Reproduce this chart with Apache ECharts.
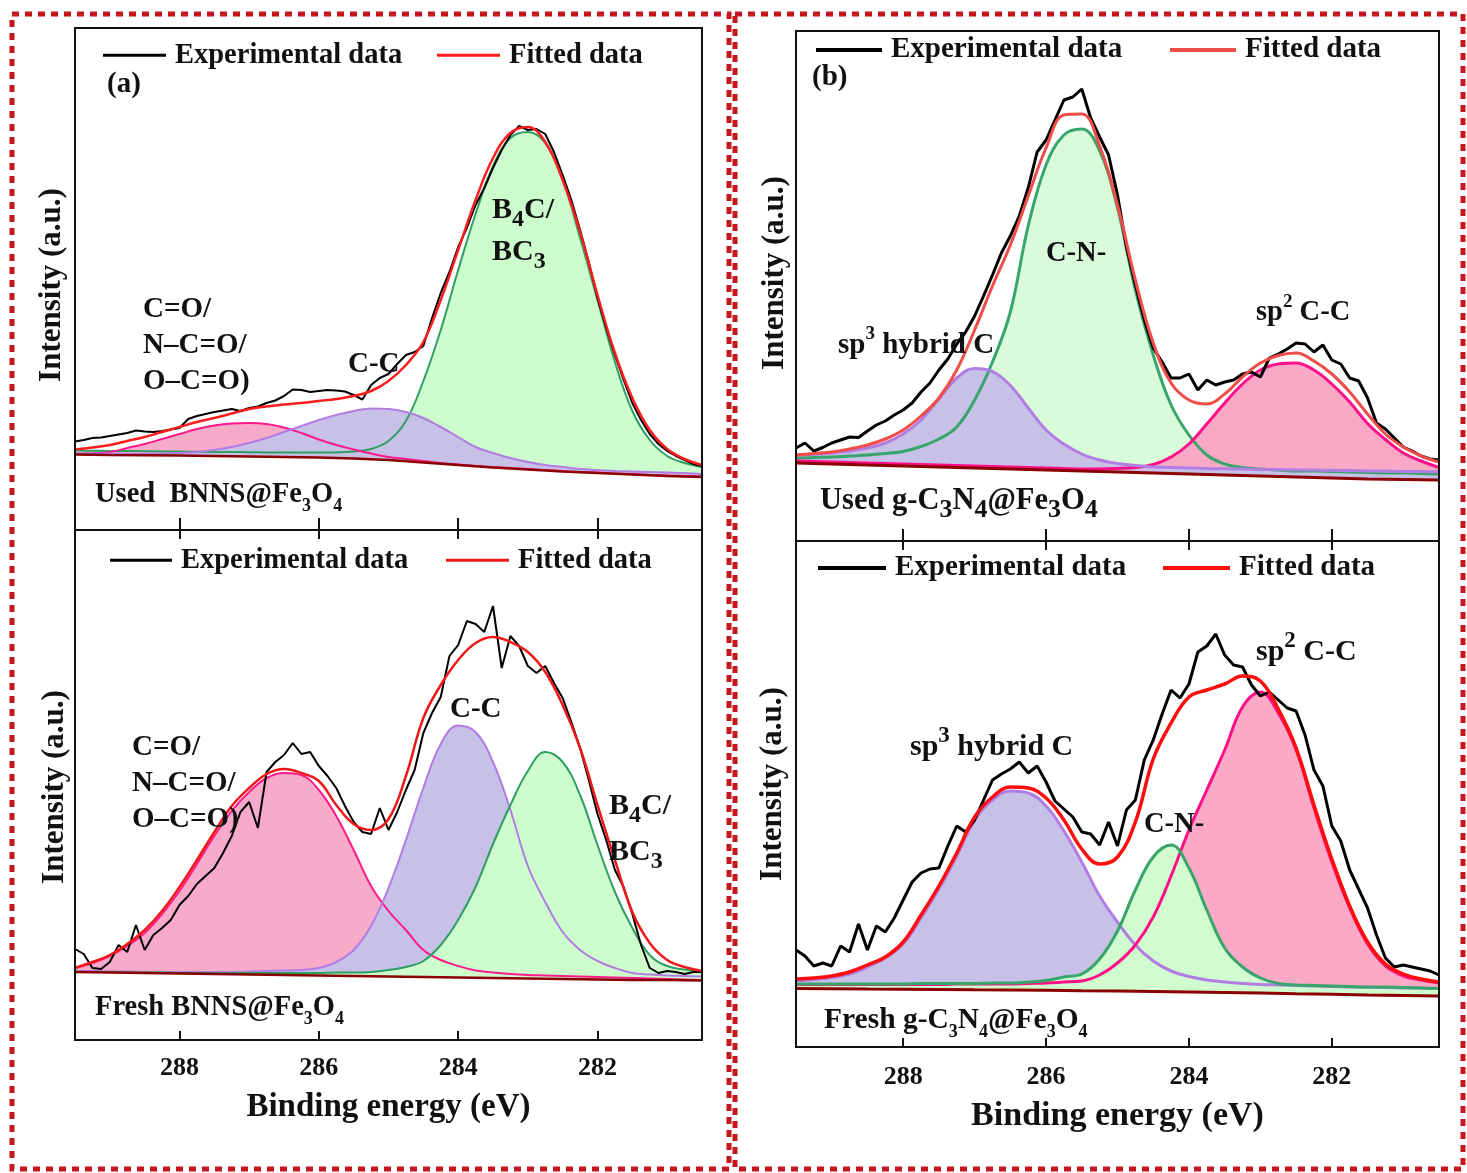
<!DOCTYPE html>
<html><head><meta charset="utf-8">
<script src="https://cdn.jsdelivr.net/npm/echarts@6/dist/echarts.min.js"></script>
<style>html,body{margin:0;padding:0;background:#fff}#c{width:1467px;height:1173px}</style>
</head><body><div id="c"></div>
<script>
// ---------- x values (binding energy, eV) ----------
const energies = [289.5,289.25,289,288.75,288.5,288.25,288,287.75,287.5,287.25,287,286.75,286.5,286.25,286,285.75,285.5,285.25,285,284.75,284.5,284.25,284,283.75,283.5,283.25,283,282.75,282.5,282.25,282,281.75,281.5,281.25,281,280.75,280.5];
const expEnergies = [289.5,289.375,289.25,289.125,289,288.875,288.75,288.625,288.5,288.375,288.25,288.125,288,287.875,287.75,287.625,287.5,287.375,287.25,287.125,287,286.875,286.75,286.625,286.5,286.375,286.25,286.125,286,285.875,285.75,285.625,285.5,285.375,285.25,285.125,285,284.875,284.75,284.625,284.5,284.375,284.25,284.125,284,283.875,283.75,283.625,283.5,283.375,283.25,283.125,283,282.875,282.75,282.625,282.5,282.375,282.25,282.125,282,281.875,281.75,281.625,281.5,281.375,281.25,281.125,281,280.875,280.75,280.625,280.5];
const baseEnergies = [289.5,289,288.5,288,287.5,287,286.5,286,285.5,285,284.5,284,283.5,283,282.5,282,281.5,281,280.5];
const tickValues = [288,286,284,282];

// ---------- (a) Used BNNS@Fe3O4 ----------
const usedBNNS_exp = [88.5,90,92,92.5,94,95.5,97,99.5,98.5,98,99,100.5,102,111,114,116,118,119.5,121,119,122,123.5,127,129.5,134,140.5,140,138,139,140,139.5,138.5,135,130.5,145,152,156,166,175,178,184,212,237,258,283,302,325,342,362,380,395,404,400,401,396,378,355,330,300,268,232,202,175,150,127,110,96,86,79,74,70,66,64];
const usedBNNS_fit = [80.5,82.5,85,89,93,98,103,108,112,116.5,121,123.5,125.5,127,129,131,134,139,149,165,188,230,280,330,372,397,403,388,350,298,235,177,132,100,81,71,65];
const usedBNNS_b4c = [79.5,79.3,79,79,78.8,78.6,78.4,78.2,78,78,77.8,77.6,77.4,77.4,77.4,77.6,78.5,81,89,109,149,200,260,316,364,392,398,387,350,292,230,168,119,90,74,67,63];
const usedBNNS_cc = [76.5,76.5,76.4,76.3,76.2,76.2,77,78,80,83,87,92,98,104,110,115,119,121.5,121,118,112,103,93,83,77,72,68,65,63,61,60,59,58.5,58,57.5,57,56];
const usedBNNS_co = [76.5,76.8,78,82,86,91,96,101,104.5,106.5,107,106,102.5,97,90.5,85,80.5,76.5,73,71,69,67,65.5,64,63,62,61,60,59,58,57.5,56.5,56,55,54.5,54,53.5];
const usedBNNS_base = [75.5,75,74.7,74.4,74,73.5,73,72.5,71.5,70,67.5,65,62.5,60.5,58.5,57,55.5,54,53];

// ---------- (a) Fresh BNNS@Fe3O4 ----------
const freshBNNS_exp = [91,86,72,71,78,95,88,115,90,105,112,120,135,144,156,164,172,187,204,228,238,212,268,278,285,297,286,288,274,264,252,234,218,208,206,232,210,228,250,270,307,327,343,384,395,419,416,408,434,372,404,394,374,367,374,357,342,318,292,260,226,200,170,153,126,95,72,67,69,68,66,68,68];
const freshBNNS_fit = [72,78,85,96,110,129,153,180,208,234,252,266,271,267,259,235,216,210,221,264,322,355,380,397,403,398,388,368,335,292,235,180,128,97,80,73,69];
const freshBNNS_co = [72,77,84,94,107,126,149,176,204,229,248,262,267,265,250,224,190,154,129,110,90,80,74,69.5,67.5,66,65,64.5,64,63.5,63,62.5,62,61.5,61,60.5,60];
const freshBNNS_cc = [69,69,68.5,68.5,68,68,68,68,68,68,68.5,69,69.5,70,72,78,90,114,152,200,252,296,314.5,308,278,230,174,138,108,90,79,72,67,65.5,64.5,64,63.5];
const freshBNNS_b4c = [68,68,68,67.5,67.5,67.5,67,67,67,67,67,67,67,67,67,67.5,67.5,68,70,73,79,95,120,153,196,235,269,288,278,245,195,148,112,85,74,70.5,69];
const freshBNNS_base = [68,67.5,67,66.5,66,65.5,65,64.5,64,63.5,63,62.5,62,61.5,61,60.5,60,60,59.5];

// ---------- (b) Used g-C3N4@Fe3O4 ----------
const usedCN_exp = [93,98,90,93.5,98,101,104,103.5,110,116,120,126,131,138,149,158,171,182,197,209,225,245,266,288,305,325,353,389,401,421,441,444,452,423,404,386,346,294,256,221,193,179,163,163,167,151,161,156,159,161,167,169,164,183,187,192,198,197,189,196,181,177,163,160,143,118,112,103,94,90,85,82,81];
const usedCN_fit = [86,87.5,89,92,96,102,111,125,143,171,211,255,296,345,393,426,427,395,336,261,198,158,141,137,147,164,178,185.5,188,180,167,149,127,107,94,85,79];
const usedCN_cn = [83,83.5,84,85,86,87.5,89.5,94.5,102,114,141,179,229,315,376,406,412,390,333,251,186,136,106,86,77,73.5,72,71,70,70,69.5,69,68.5,68,68,67.5,67];
const usedCN_sp3 = [86,86.5,88,90,93,98,107,121,142,163,172.5,169.5,155.5,133,111,97,87,81,77.5,75.5,74,73.5,73,72.5,72.2,72,71.7,71.5,71.2,71,70.7,70.4,70.1,69.8,69.6,69.4,69.2];
const usedCN_sp2 = [80,79.5,79,78.5,78,77.5,77,76.5,76,75.5,75,74.5,74,73.5,73,72.5,72,72,72.5,73.5,76.5,84,97,117,138,157,171,177,178,171,157,139,117.5,101.5,88,80,73.5];
const usedCN_base = [78,77,76,75,74,73,72,71,70,69,68,67,66,65,64,63,62,61.5,61];

// ---------- (b) Fresh g-C3N4@Fe3O4 ----------
const freshCN_exp = [97,91,81,84,81,101,95,123,97,121,115,129,147,165,174,178,179,201,221,215,227,247,267,273,278,285,274,281,265,246,238,230,215,213,202,225,201,237,247,287,307,333,357,349,363,395,401,413,392,382,380,362,351,355,347,339,336,312,277,261,221,206,177,158,139,112,89,80,82,80,78,76,72];
const freshCN_fit = [68,69,71,75,82,90,105,132,161,194,230,250,260,259,249,227,198,183,190,225,288,324,350,357,363,371,366,338,299,242,188,141,105,83,73,68,65];
const freshCN_sp3 = [66,67.5,69.5,73,80,89,103,129,158,191,227,247,256,254,241,216,185,151,125,102,86,76,70.5,67,65,63.5,62.5,62,61.5,61,60.5,60,59.7,59.4,59.1,58.9,58.6];
const freshCN_cn = [63,63,63,63,63,63,63,63.5,63.5,63.5,63.5,64,64,65,66.5,70,73,88,116,157,190,202,179,137,99,80,69,63.5,62,61.5,61,60.5,60,60,59.5,59,58.5];
const freshCN_sp2 = [62.5,62.5,62.5,62.5,62.5,62.5,62.5,62.5,62.5,63,63,63,63,63.5,64,65,66,72,84,102,130,171,217,257,297,340,355,334,297,239,185,139,103,81,71,67,64];
const freshCN_base = [58.5,58.3,58,57.8,57.5,57.2,57,56.7,56.3,56,55.5,55,54.5,54,53.3,52.7,52,51.5,51];

// ---------- layout / styling ----------
const SERIF = '"Liberation Serif","Times New Roman",serif';
const INK = '#111';
const GREEN = '#2f9e63', PURPLE = '#b27de3', PINK = '#ff1a8c', BASE = '#8b0000';
const GF = '#cdfccd', PF = '#c7c0e7', KF = '#f7abc9';

const grids = [
  {left:75, top:28, width:627, height:502},
  {left:75, top:530, width:627, height:510},
  {left:796, top:31, width:643, height:510},
  {left:796, top:541, width:643, height:506}
];
const yMax = [502, 510, 510, 506];

const panels = [
  {xi:0, exp:usedBNNS_exp, fit:usedBNNS_fit, base:usedBNNS_base, fitColor:'#ff1c1c', expW:2, fitW:2.5, cw:2, bw:2.5,
   comps:[{d:usedBNNS_b4c, line:GREEN, fill:GF},{d:usedBNNS_co, line:PINK, fill:KF},{d:usedBNNS_cc, line:PURPLE, fill:PF}]},
  {xi:1, exp:freshBNNS_exp, fit:freshBNNS_fit, base:freshBNNS_base, fitColor:'#f01818', expW:2, fitW:2.5, cw:2, bw:2.5,
   comps:[{d:freshBNNS_co, line:PINK, fill:KF},{d:freshBNNS_cc, line:PURPLE, fill:PF},{d:freshBNNS_b4c, line:GREEN, fill:GF}]},
  {xi:3, exp:usedCN_exp, fit:usedCN_fit, base:usedCN_base, fitColor:'#f04c48', expW:3, fitW:3, cw:3, bw:3,
   comps:[{d:usedCN_cn, line:'#38a56b', fill:'#dafbda'},{d:usedCN_sp2, line:'#ff0f88', fill:'#f9a9c6'},{d:usedCN_sp3, line:PURPLE, fill:PF}]},
  {xi:4, exp:freshCN_exp, fit:freshCN_fit, base:freshCN_base, fitColor:'#ff0d0d', expW:3, fitW:3.5, cw:3, bw:3,
   comps:[{d:freshCN_sp3, line:PURPLE, fill:PF},{d:freshCN_sp2, line:'#ff0f88', fill:'#fba9c6'},{d:freshCN_cn, line:'#38a56b', fill:'#d0fcd0'}]}
];

function pairs(xs, ys){ return xs.map((x,i)=>[x, ys[i]]); }

const series = [];
panels.forEach((p, gi) => {
  const common = {type:'line', xAxisIndex:p.xi, yAxisIndex:gi, symbol:'none', silent:true, animation:false};
  p.comps.forEach((c, k) => series.push(Object.assign({}, common, {
    data:pairs(energies, c.d), smooth:0.4, lineStyle:{width:0, opacity:0},
    areaStyle:{color:c.fill, opacity:1}, z:1+k})));
  series.push(Object.assign({}, common, {data:pairs(baseEnergies, p.base), lineStyle:{width:0, opacity:0},
    areaStyle:{color:'#ffffff', opacity:1}, z:4}));
  p.comps.forEach(c => series.push(Object.assign({}, common, {
    data:pairs(energies, c.d), smooth:0.4, lineStyle:{color:c.line, width:p.cw}, z:5})));
  series.push(Object.assign({}, common, {data:pairs(baseEnergies, p.base), lineStyle:{color:BASE, width:p.bw}, z:5}));
  series.push(Object.assign({}, common, {name:'Experimental data', data:pairs(expEnergies, p.exp),
    lineStyle:{color:'#000', width:p.expW}, itemStyle:{color:'#000'}, z:7}));
  series.push(Object.assign({}, common, {name:'Fitted data', data:pairs(energies, p.fit), smooth:0.4,
    lineStyle:{color:p.fitColor, width:p.fitW}, itemStyle:{color:p.fitColor}, z:8}));
});

function xAx(gridIndex, position, tickLen, labels, nameGap, nameSize, labelMargin) {
  const a = {gridIndex, type:'value', min:280.5, max:289.5, inverse:true, position, z:10,
    axisLine:{show:false}, splitLine:{show:false},
    axisTick:{show:true, inside:true, length:tickLen, lineStyle:{color:INK, width:2}, customValues:tickValues},
    axisLabel:{show:labels, customValues:tickValues, margin:labelMargin || 16, color:INK,
      fontFamily:SERIF, fontWeight:'bold', fontSize:26}};
  if (labels) {
    a.name = 'Binding energy (eV)'; a.nameLocation = 'middle'; a.nameGap = nameGap;
    a.nameTextStyle = {fontFamily:SERIF, fontWeight:'bold', fontSize:nameSize, color:INK};
  }
  return a;
}
const xAxis = [
  xAx(0,'bottom',12,false),
  xAx(1,'bottom',9,true,51,33,15),
  xAx(1,'top',9,false),
  xAx(2,'bottom',12,false),
  xAx(3,'bottom',9,true,52,34,17),
  xAx(3,'top',9,false)
];
const yAxis = grids.map((g,i)=>({gridIndex:i, type:'value', min:0, max:yMax[i], show:false}));

// legends (one item each, placed like the reference)
function leg(name, left, cy, color, w, h, size) {
  return {left, top:cy - size/2, orient:'horizontal', selectedMode:false, padding:0,
    itemWidth:w, itemHeight:h, icon:'rect',
    textStyle:{fontFamily:SERIF, fontWeight:'bold', fontSize:size, color:INK, padding:[0,0,0,4]},
    data:[{name, icon:'rect', itemStyle:{color}}]};
}
const legend = [
  leg('Experimental data',103,55,'#000',63,3,28.5), leg('Fitted data',437,55,'#ff1c1c',63,3,28.5),
  leg('Experimental data',110,560,'#000',62,3,28.5), leg('Fitted data',446,560,'#f01818',63,3,28.5),
  leg('Experimental data',816,50,'#000',66,4,29), leg('Fitted data',1170,50,'#f04c48',66,4,29),
  leg('Experimental data',818,568,'#000',68,4,29), leg('Fitted data',1163,568,'#ff0d0d',67,4,29)
];

// text with _x subscript and ^x superscript markup
function mkText(x, y, str, size, subScale) {
  subScale = subScale || 0.72;
  let out = '', buf = '';
  const flush = () => { if (buf) { out += '{m|' + buf + '}'; buf = ''; } };
  for (let i = 0; i < str.length; i++) {
    const ch = str[i];
    if (ch === '_' || ch === '^') { flush(); out += '{' + (ch === '_' ? 'sub' : 'sup') + '|' + str[i+1] + '}'; i++; }
    else buf += ch;
  }
  flush();
  const ss = Math.round(size * subScale);
  return {type:'text', z:100, silent:true, x, y, style:{text:out, x:0, y:0, align:'left', verticalAlign:'middle',
    rich:{
      m:{fontFamily:SERIF, fontWeight:'bold', fontSize:size, fill:INK, lineHeight:Math.round(size*1.45)},
      sub:{fontFamily:SERIF, fontWeight:'bold', fontSize:ss, fill:INK, lineHeight:ss, verticalAlign:'bottom'},
      sup:{fontFamily:SERIF, fontWeight:'bold', fontSize:ss, fill:INK, lineHeight:ss, verticalAlign:'top'}
    }}};
}
function yTitle(cx, cy, size) {
  return {type:'text', z:100, silent:true, x:cx, y:cy, rotation:Math.PI/2,
    style:{text:'Intensity (a.u.)', x:0, y:0, align:'center', verticalAlign:'middle',
      fontFamily:SERIF, fontWeight:'bold', fontSize:size, fill:INK}};
}
function box(g) {
  return {type:'rect', z:100, silent:true, shape:{x:g.left, y:g.top, width:g.width, height:g.height},
    style:{fill:'none', stroke:INK, lineWidth:2}};
}
function dashed(x, y, w, h) {
  return {type:'rect', z:100, silent:true, shape:{x, y, width:w, height:h},
    style:{fill:'none', stroke:'#c4161c', lineWidth:5, lineDash:[7,6]}};
}

const graphic = [
  dashed(12,14,717,1155), dashed(735,14,728,1155),
  box(grids[0]), box(grids[1]), box(grids[2]), box(grids[3]),
  yTitle(52,285,31), yTitle(55,787,31), yTitle(775,273,31), yTitle(773,784,31),
  // (a) used
  mkText(107,85,'(a)',29),
  mkText(143,310,'C=O/',29), mkText(143,346,'N\u2013C=O/',29), mkText(143,382,'O\u2013C=O)',29),
  mkText(348,365,'C-C',29),
  mkText(492,210,'B_4C/',30,0.8), mkText(492,252,'BC_3',30,0.8),
  mkText(95,495,'Used  BNNS@Fe_3O_4',28.5,0.62),
  // (a) fresh
  mkText(132,748,'C=O/',29), mkText(132,784,'N\u2013C=O/',29), mkText(132,820,'O\u2013C=O)',29),
  mkText(450,710,'C-C',29),
  mkText(609,806,'B_4C/',30,0.8), mkText(609,852,'BC_3',30,0.8),
  mkText(95,1008,'Fresh BNNS@Fe_3O_4',28.5,0.62),
  // (b) used
  mkText(812,78,'(b)',29),
  mkText(1046,254,'C-N-',28.5),
  mkText(838,346,'sp^3 hybrid C',29,0.65),
  mkText(1256,313,'sp^2 C-C',28.5,0.65),
  mkText(820,501,'Used g-C_3N_4@Fe_3O_4',30.5,0.85),
  // (b) fresh
  mkText(910,747,'sp^3 hybrid C',30,0.75),
  mkText(1144,825,'C-N-',28.5),
  mkText(1256,652,'sp^2 C-C',30,0.75),
  mkText(824,1020,'Fresh g-C_3N_4@Fe_3O_4',29.5,0.62)
];

const chart = echarts.init(document.getElementById('c'), null, {renderer:'canvas', width:1467, height:1173});
chart.setOption({
  animation:false, backgroundColor:'#fff',
  grid:grids.map(g=>Object.assign({show:false, containLabel:false}, g)),
  xAxis, yAxis, legend, series, graphic
});
</script></body></html>
